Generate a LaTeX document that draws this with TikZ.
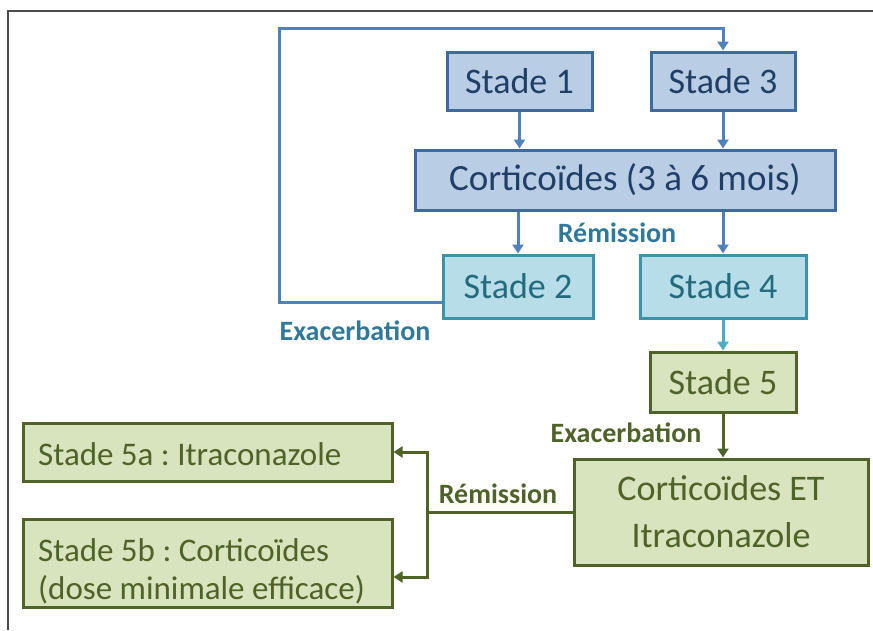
\documentclass[tikz,border=0pt]{standalone}
\usepackage{fontspec}
\setmainfont{Carlito}
\usetikzlibrary{arrows.meta,calc}
\definecolor{bfill}{HTML}{B9CDE5}
\definecolor{bdraw}{HTML}{3F6AA0}
\definecolor{btext}{HTML}{1F3F66}
\definecolor{barrow}{HTML}{4F81BD}
\definecolor{cfill}{HTML}{B7DEE8}
\definecolor{cdraw}{HTML}{3A93AA}
\definecolor{ctext}{HTML}{236A7C}
\definecolor{carrow}{HTML}{4BACC6}
\definecolor{clabel}{HTML}{31799A}
\definecolor{gfill}{HTML}{D7E4BD}
\definecolor{gdraw}{HTML}{4F6228}
\definecolor{gtext}{HTML}{4F6228}
\tikzset{
  box/.style={rectangle, line width=3pt, inner sep=0pt, align=center},
  bluebox/.style={box, fill=bfill, draw=bdraw, text=btext, font=\fontsize{36}{44}\selectfont},
  cyanbox/.style={box, fill=cfill, draw=cdraw, text=ctext, font=\fontsize{36}{44}\selectfont},
  greenbox/.style={box, fill=gfill, draw=gdraw, text=gtext, font=\fontsize{36}{47}\selectfont},
  leftbox/.style={box, fill=gfill, draw=gdraw},
  lefttext/.style={inner sep=0pt, text=gtext, align=left, font=\fontsize{33}{38}\selectfont},
  tip/.style={-{Triangle[length=9pt,width=11pt]}},
  bline/.style={line width=3pt, draw=barrow},
  gline/.style={line width=3pt, draw=gdraw},
  lbl/.style={font=\fontsize{28}{32}\selectfont\bfseries},
}
\begin{document}
\frenchspacing
\begin{tikzpicture}[x=1pt,y=-1pt]
\useasboundingbox (0,0) rectangle (873,630);
\draw[line width=2pt, black!70] (8,630) -- (8,11) -- (873,11);

\node[bluebox, minimum width=145pt, minimum height=58pt] (s1) at (519.5,81) {Stade 1};
\node[bluebox, minimum width=144pt, minimum height=58pt] (s3) at (723,81) {Stade 3};
\node[bluebox, minimum width=420pt, minimum height=60pt, font=\fontsize{37}{44}\selectfont] (cort) at (625,180) {Corticoïdes (3 à 6 mois)};
\node[cyanbox, minimum width=150pt, minimum height=63pt] (s2) at (518,286.5) {Stade 2};
\node[cyanbox, minimum width=166pt, minimum height=63pt] (s4) at (723,286.5) {Stade 4};
\node[greenbox, minimum width=146pt, minimum height=60pt] (s5) at (723,382) {Stade 5};
\node[greenbox, minimum width=294pt, minimum height=106pt] (cei) at (721,512) {Corticoïdes ET\\Itraconazole};
\node[leftbox, minimum width=369pt, minimum height=58pt] (s5a) at (207.5,452) {};
\node[lefttext, anchor=base west] (s5at) at (38,465) {Stade 5a : Itraconazole};
\node[leftbox, minimum width=369pt, minimum height=88pt] (s5b) at (207.5,563) {};
\node[lefttext, anchor=base west] (s5bt) at (38,599) {Stade 5b : Corticoïdes\\(dose minimale efficace)};

\node[lbl, text=clabel] (rem1) at (617,233) {Rémission};
\node[lbl, text=clabel] (exa1) at (355,331) {Exacerbation};
\node[lbl, text=gtext] (exa2) at (626,433) {Exacerbation};
\node[lbl, text=gtext] (rem2) at (498,494) {Rémission};

\draw[bline, tip] (s1.south) -- (s1.south |- cort.north);
\draw[bline, tip] (s3.south) -- (s3.south |- cort.north);
\draw[bline, tip] (s2.north |- cort.south) -- (s2.north);
\draw[bline, tip] (s4.north |- cort.south) -- (s4.north);

\coordinate (ls) at ($(s2.west)+(0,16)$);
\coordinate (lc) at (279,28);
\draw[bline, tip] (ls) -| (lc) -| (s3.north);

\draw[line width=3pt, draw=carrow, tip] (s4.south) -- (s5.north);
\draw[gline, tip] (s5.south) -- (s5.south |- cei.north);

\coordinate (j) at (427,512);
\coordinate (b5) at ($(s5b.east)+(0,14)$);
\draw[gline] (cei.west) -- (j);
\draw[gline, tip] (j) |- (s5a.east);
\draw[gline, tip] (j) |- (b5);
\end{tikzpicture}
\end{document}
